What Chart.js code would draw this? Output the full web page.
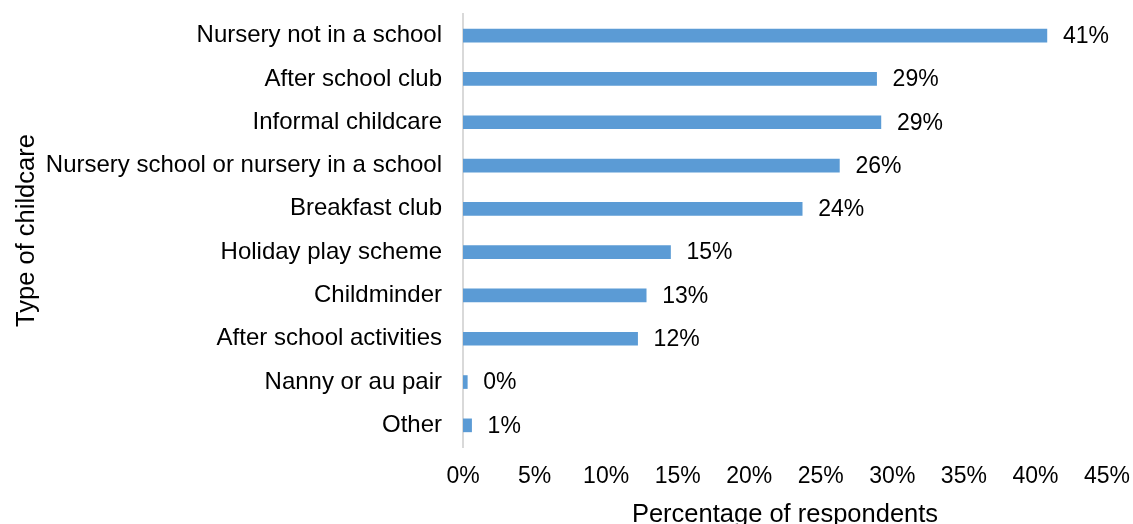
<!DOCTYPE html>
<html>
<head>
<meta charset="utf-8">
<title>Type of childcare</title>
<script src="https://cdn.jsdelivr.net/npm/chart.js@4/dist/chart.umd.min.js"></script>
<style>
    html, body { margin: 0; padding: 0; background: #fff; overflow: hidden; }
    #wrap { position: relative; width: 1133px; height: 530px; }
</style>
</head>
<body>
<div id="wrap"><canvas id="childcare-chart"></canvas></div>
<script>
// Survey results: share of respondents using each type of childcare
const categories = [
    'Nursery not in a school',
    'After school club',
    'Informal childcare',
    'Nursery school or nursery in a school',
    'Breakfast club',
    'Holiday play scheme',
    'Childminder',
    'After school activities',
    'Nanny or au pair',
    'Other'
];
const percentages = [40.8, 28.9, 29.2, 26.3, 23.7, 14.5, 12.8, 12.2, 0.3, 0.6];
const axisMax = 45;
const axisStep = 5;

const FONT = "'Liberation Sans', Arial, sans-serif";
const BAR_COLOR = '#5B9BD5';

// Writes the rounded percentage just past the end of each bar
const barValueLabels = {
    id: 'barValueLabels',
    afterDatasetsDraw(chart) {
        const ctx = chart.ctx;
        const meta = chart.getDatasetMeta(0);
        ctx.save();
        ctx.font = '23px ' + FONT;
        ctx.fillStyle = '#000';
        ctx.textAlign = 'left';
        ctx.textBaseline = 'middle';
        meta.data.forEach(function(bar, i) {
            const value = chart.data.datasets[0].data[i];
            ctx.fillText(Math.round(value) + '%', bar.x + 16, bar.y + 1);
        });
        ctx.restore();
    }
};

const ctx = document.getElementById('childcare-chart').getContext('2d');
new Chart(ctx, {
    type: 'bar',
    data: {
        labels: categories,
        datasets: [{
            label: 'Percentage of respondents',
            data: percentages,
            backgroundColor: BAR_COLOR,
            borderWidth: 0,
            barThickness: 13
        }]
    },
    options: {
        indexAxis: 'y',
        responsive: true,
        maintainAspectRatio: false,
        animation: false,
        layout: {
            padding: { top: 14, right: 26, bottom: 0, left: 0 }
        },
        plugins: {
            legend: { display: false },
            tooltip: { enabled: false }
        },
        scales: {
            x: {
                min: 0,
                max: axisMax,
                grid: { display: false, drawTicks: false },
                border: { display: false },
                ticks: {
                    stepSize: axisStep,
                    padding: 16,
                    color: '#000',
                    font: { family: FONT, size: 23 },
                    callback: function(value) { return value + '%'; }
                },
                title: {
                    display: true,
                    text: 'Percentage of respondents',
                    color: '#000',
                    padding: { top: 0, bottom: 0 },
                    font: { family: FONT, size: 25.5 }
                },
                afterFit: function(scale) {
                    scale.height = 83;
                    scale.paddingLeft = 0;
                    scale.paddingRight = 0;
                }
            },
            y: {
                grid: { display: false, drawTicks: false },
                border: { display: true, color: '#d9d9d9', width: 2 },
                ticks: {
                    padding: 21,
                    color: '#000',
                    autoSkip: false,
                    font: { family: FONT, size: 24 }
                },
                title: {
                    display: true,
                    text: 'Type of childcare',
                    color: '#000',
                    padding: { top: 12, bottom: 0 },
                    font: { family: FONT, size: 25.5 }
                },
                afterFit: function(scale) {
                    scale.width = 463;
                    scale.paddingTop = 0;
                    scale.paddingBottom = 0;
                }
            }
        }
    },
    plugins: [barValueLabels]
});
</script>
</body>
</html>
